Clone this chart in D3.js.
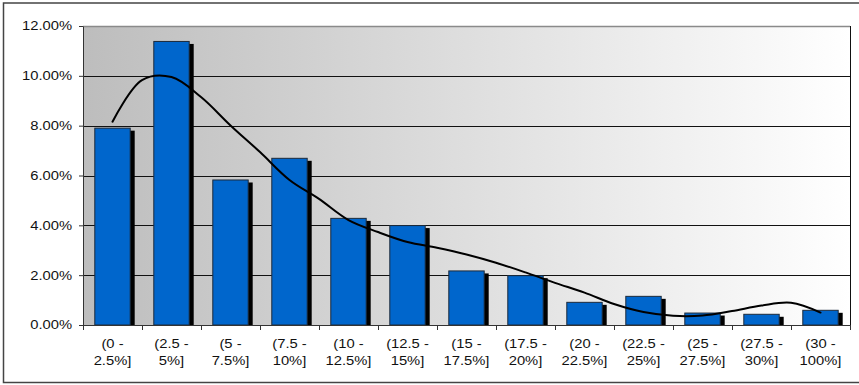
<!DOCTYPE html>
<html>
<head>
<meta charset="utf-8">
<script src="https://cdn.jsdelivr.net/npm/d3@7"></script>
<style>
  html, body { margin: 0; padding: 0; background: #fff; }
  svg { display: block; }
  text { font-family: "Liberation Sans", Arial, sans-serif; font-size: 12px; fill: #111; }
</style>
</head>
<body>
<svg id="chart" width="859" height="385"></svg>
<script>
// Return buckets (two-line labels)
const categories = ["(0 -|2.5%]", "(2.5 -|5%]", "(5 -|7.5%]", "(7.5 -|10%]", "(10 -|12.5%]",
  "(12.5 -|15%]", "(15 -|17.5%]", "(17.5 -|20%]", "(20 -|22.5%]", "(22.5 -|25%]",
  "(25 -|27.5%]", "(27.5 -|30%]", "(30 -|100%]"];

// Share of observations per bucket
const shares = [0.0790, 0.1138, 0.0582, 0.0669, 0.0428, 0.0399, 0.0217, 0.0198,
  0.0091, 0.0115, 0.0048, 0.0043, 0.0059];

// Smoothed density curve: position in bucket units (0 = first bucket centre) and value
const curvePos = [0, 0.5, 1, 1.5, 2, 2.5, 3, 3.5, 4, 4.5, 5, 5.5, 6, 6.5, 7, 7.5,
  8, 8.5, 9, 9.5, 10, 10.5, 11, 11.5, 12];
const curveVal = [0.0816, 0.0983, 0.0995, 0.0915, 0.0801, 0.0694, 0.0582, 0.0506,
  0.0421, 0.0373, 0.0333, 0.0310, 0.0283, 0.0250, 0.0211, 0.0169, 0.0130, 0.0084,
  0.0052, 0.0037, 0.0038, 0.0056, 0.0078, 0.0089, 0.0050];

// Axis ticks
const yTicks = [0, 0.02, 0.04, 0.06, 0.08, 0.10, 0.12];

const svg = d3.select("#chart");
const plot = { left: 83, top: 26, right: 850, bottom: 325 };
const textScale = 1.23;

// Outer chart frame
svg.append("rect")
  .attr("x", 3.5).attr("y", 3).attr("width", 870).attr("height", 379.5)
  .attr("fill", "none").attr("stroke", "#444").attr("stroke-width", 1.5);

// Plot background gradient
const defs = svg.append("defs");
const grad = defs.append("linearGradient").attr("id", "bg")
  .attr("x1", "0%").attr("x2", "100%").attr("y1", "0%").attr("y2", "0%");
grad.append("stop").attr("offset", "0%").attr("stop-color", "#bdbdbd");
grad.append("stop").attr("offset", "100%").attr("stop-color", "#ffffff");

svg.append("rect")
  .attr("x", plot.left).attr("y", plot.top)
  .attr("width", plot.right - plot.left).attr("height", plot.bottom - plot.top)
  .attr("fill", "url(#bg)");

const x = d3.scaleBand()
  .domain(categories)
  .range([plot.left, plot.right])
  .paddingInner(0.4).paddingOuter(0.2);
const xEdge = d3.scaleLinear().domain([0, categories.length]).range([plot.left, plot.right]);
const xCurve = d3.scaleLinear()
  .domain([0, categories.length - 1])
  .range([x(categories[0]) + x.bandwidth() / 2, x(categories[categories.length - 1]) + x.bandwidth() / 2]);
const y = d3.scaleLinear().domain([0, 0.12]).range([plot.bottom, plot.top]);

// Gridlines
svg.append("g").selectAll("line")
  .data(yTicks.filter(t => t > 0 && t < 0.12))
  .join("line")
  .attr("x1", plot.left).attr("x2", plot.right)
  .attr("y1", d => Math.round(y(d)) + 0.5).attr("y2", d => Math.round(y(d)) + 0.5)
  .attr("stroke", "#111").attr("stroke-width", 1);

// Plot border (top grey, right black)
svg.append("line")
  .attr("x1", plot.left).attr("x2", plot.right)
  .attr("y1", plot.top + 0.5).attr("y2", plot.top + 0.5)
  .attr("stroke", "#8a8a8a").attr("stroke-width", 1.5);
svg.append("line")
  .attr("x1", plot.right + 0.5).attr("x2", plot.right + 0.5)
  .attr("y1", plot.top).attr("y2", plot.bottom)
  .attr("stroke", "#111").attr("stroke-width", 1);

// Bars with drop shadow
const bars = svg.append("g");
bars.selectAll("rect.shadow")
  .data(shares)
  .join("rect")
  .attr("class", "shadow")
  .attr("x", (d, i) => x(categories[i]) + 4.5)
  .attr("y", d => y(d) + 2.5)
  .attr("width", x.bandwidth())
  .attr("height", d => plot.bottom - y(d) - 2.5)
  .attr("fill", "#000");
bars.selectAll("rect.bar")
  .data(shares)
  .join("rect")
  .attr("class", "bar")
  .attr("x", (d, i) => x(categories[i]))
  .attr("y", d => y(d))
  .attr("width", x.bandwidth())
  .attr("height", d => plot.bottom - y(d))
  .attr("fill", "#0066cc")
  .attr("stroke", "#1c2a3a").attr("stroke-width", 1);

// Smoothed curve
svg.append("path")
  .datum(curvePos.map((p, i) => [p, curveVal[i]]))
  .attr("fill", "none").attr("stroke", "#000").attr("stroke-width", 2)
  .attr("stroke-linejoin", "round").attr("stroke-linecap", "round")
  .attr("d", d3.line().x(d => xCurve(d[0])).y(d => y(d[1])).curve(d3.curveCatmullRom));

// Y axis
const yAxis = svg.append("g")
  .attr("transform", `translate(${plot.left},0)`)
  .call(d3.axisLeft(y).tickValues(yTicks).tickFormat(d3.format(".2%")).tickSize(4).tickSizeOuter(0));
yAxis.select(".domain").attr("stroke", "#333");
yAxis.selectAll(".tick line").attr("stroke", "#333");
yAxis.selectAll(".tick text")
  .attr("x", null)
  .attr("transform", `translate(-11,0) scale(${textScale},1)`)
  .attr("font-size", null).attr("font-family", null).attr("fill", "#111");

// X axis: ticks at bucket edges
const xAxis = svg.append("g")
  .attr("transform", `translate(0,${plot.bottom})`)
  .call(d3.axisBottom(xEdge).tickValues(d3.range(0, categories.length + 1)).tickFormat("").tickSize(5).tickSizeOuter(0));
xAxis.select(".domain").attr("stroke", "#333");
xAxis.selectAll(".tick line").attr("stroke", "#333");

// X labels (two lines each)
const xl = svg.append("g").selectAll("g")
  .data(categories)
  .join("g")
  .attr("transform", d => `translate(${x(d) + x.bandwidth() / 2},0)`);
xl.selectAll("text")
  .data(d => d.split("|").map((s, j) => ({ s, j })))
  .join("text")
  .attr("text-anchor", "middle")
  .attr("transform", d => `translate(0,${348 + d.j * 17}) scale(${textScale},1)`)
  .text(d => d.s);
</script>
</body>
</html>
